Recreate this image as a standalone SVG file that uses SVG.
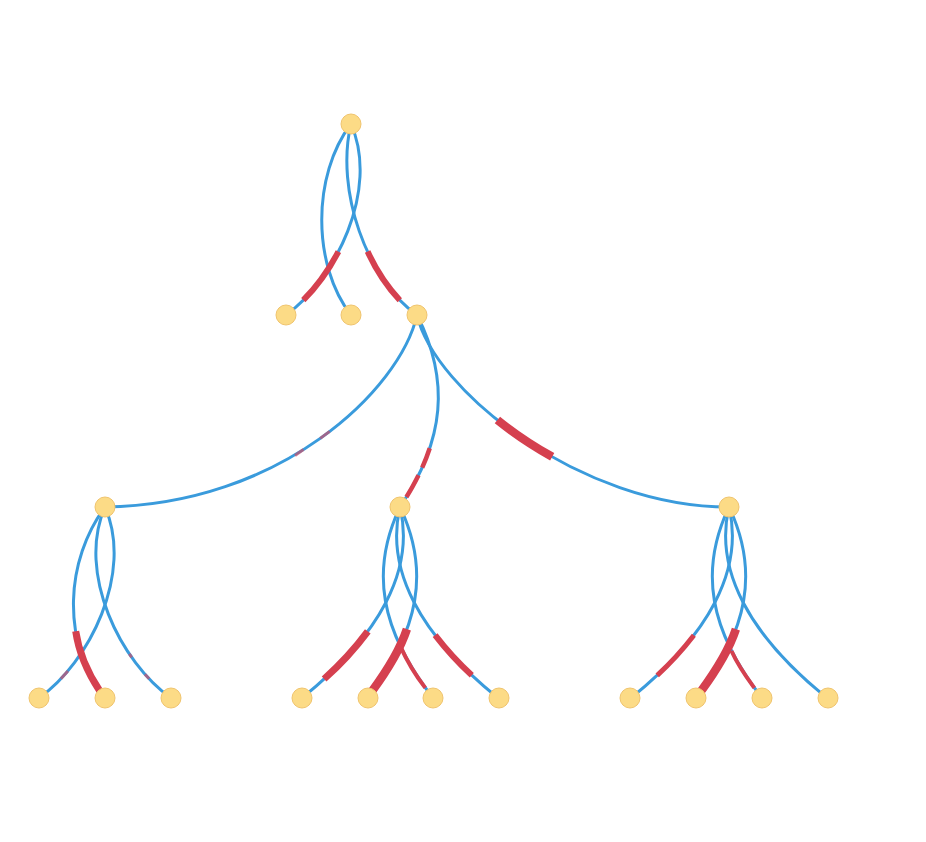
<svg xmlns="http://www.w3.org/2000/svg" width="926" height="842" viewBox="0 0 926 842">
<style>
.e{fill:none;stroke:#3a9bdc;stroke-width:3;stroke-linecap:round}
.r{fill:none;stroke:#d5404f;stroke-linecap:butt}
.f{fill:none;stroke:#c8506a;stroke-width:3;opacity:0.7}
.n{fill:#fcdb86;stroke:#f0c46e;stroke-width:1}
</style>
<rect width="926" height="842" fill="#ffffff"/>
<g id="connectors">
<path class="e" d="M351,124 C312,175 312,265 351,315"/>
<path class="e" d="M351,124 C380,190 335,280 286,315"/>
<path class="e" d="M351,124 C335,190 367,280 417,315"/>
<path class="e" d="M417,315 C400,390 280,505 105,507"/>
<path class="e" d="M417,315 C450,380 445,440 400,507"/>
<path class="e" d="M417,315 C434,390 580,507 729,507"/>
<path class="e" d="M105,507 C134,573 89,663 39,698"/>
<path class="e" d="M105,507 C66,560 60,640 105,698"/>
<path class="e" d="M105,507 C76,573 121,663 171,698"/>
<path class="e" d="M400,507 C415,570 380,635 302,698"/>
<path class="e" d="M400,507 C430,570 420,630 367,698"/>
<path class="e" d="M400,507 C370,570 380,630 433,698"/>
<path class="e" d="M400,507 C385,570 420,635 498,698"/>
<path class="e" d="M729,507 C744,570 709,635 631,698"/>
<path class="e" d="M729,507 C759,570 749,630 696,698"/>
<path class="e" d="M729,507 C699,570 709,630 762,698"/>
<path class="e" d="M729,507 C714,570 749,635 827,698"/>
<path class="r" stroke-width="6" d="M338.4,251.6 Q323.55,279.9 303.3,300.2"/>
<path class="r" stroke-width="6" d="M367.6,251.6 Q380.7,279.9 399.8,300.2"/>
<path class="f" d="M329.7,431.4 L320.2,438.4"/>
<path class="f" d="M303.5,449.6 L295,455.5"/>
<path class="r" stroke-width="4.5" d="M429.7,448.2 Q426.65,457.7 422.2,467.6"/>
<path class="r" stroke-width="4.5" d="M418.5,475.3 Q412.15,488.05 406.4,497"/>
<path class="r" stroke-width="8.5" d="M497.4,420 Q522.2,440 552.2,456.8"/>
<path class="f" d="M67.9,671.1 L60.9,678.7"/>
<path class="r" stroke-width="7" d="M75.7,631.2 Q80.05,661.1 99.8,691"/>
<path class="f" d="M129.3,653.8 L131.7,657.3"/>
<path class="f" d="M144.9,674.3 L149.1,678.7"/>
<path class="r" stroke-width="7" d="M367.8,631.4 Q348.45,657.4 324.1,679"/>
<path class="r" stroke-width="4" d="M400.5,646.6 Q410.3,668.35 425.3,687.9"/>
<path class="r" stroke-width="8.5" d="M406.9,629.2 Q398.15,655.7 371.6,691.8"/>
<path class="r" stroke-width="6" d="M435.1,635.2 Q452.15,657.35 471.8,675.3"/>
<path class="r" stroke-width="5" d="M693.9,635.2 Q676.85,657.35 657.2,675.3"/>
<path class="r" stroke-width="4" d="M731.5,651 Q738.3,666.15 754.3,687.9"/>
<path class="r" stroke-width="8.5" d="M735.9,629.2 Q727.15,655.7 700.6,691.8"/>
</g>
<g id="n0"><circle class="n" cx="351" cy="124" r="10"/></g>
<g id="n1"><circle class="n" cx="286" cy="315" r="10"/></g>
<g id="n2"><circle class="n" cx="351" cy="315" r="10"/></g>
<g id="n3"><circle class="n" cx="417" cy="315" r="10"/></g>
<g id="n4"><circle class="n" cx="105" cy="507" r="10"/></g>
<g id="n5"><circle class="n" cx="400" cy="507" r="10"/></g>
<g id="n6"><circle class="n" cx="729" cy="507" r="10"/></g>
<g id="n7"><circle class="n" cx="39" cy="698" r="10"/></g>
<g id="n8"><circle class="n" cx="105" cy="698" r="10"/></g>
<g id="n9"><circle class="n" cx="171" cy="698" r="10"/></g>
<g id="n10"><circle class="n" cx="302" cy="698" r="10"/></g>
<g id="n11"><circle class="n" cx="368" cy="698" r="10"/></g>
<g id="n12"><circle class="n" cx="433" cy="698" r="10"/></g>
<g id="n13"><circle class="n" cx="499" cy="698" r="10"/></g>
<g id="n14"><circle class="n" cx="630" cy="698" r="10"/></g>
<g id="n15"><circle class="n" cx="696" cy="698" r="10"/></g>
<g id="n16"><circle class="n" cx="762" cy="698" r="10"/></g>
<g id="n17"><circle class="n" cx="828" cy="698" r="10"/></g>
</svg>
